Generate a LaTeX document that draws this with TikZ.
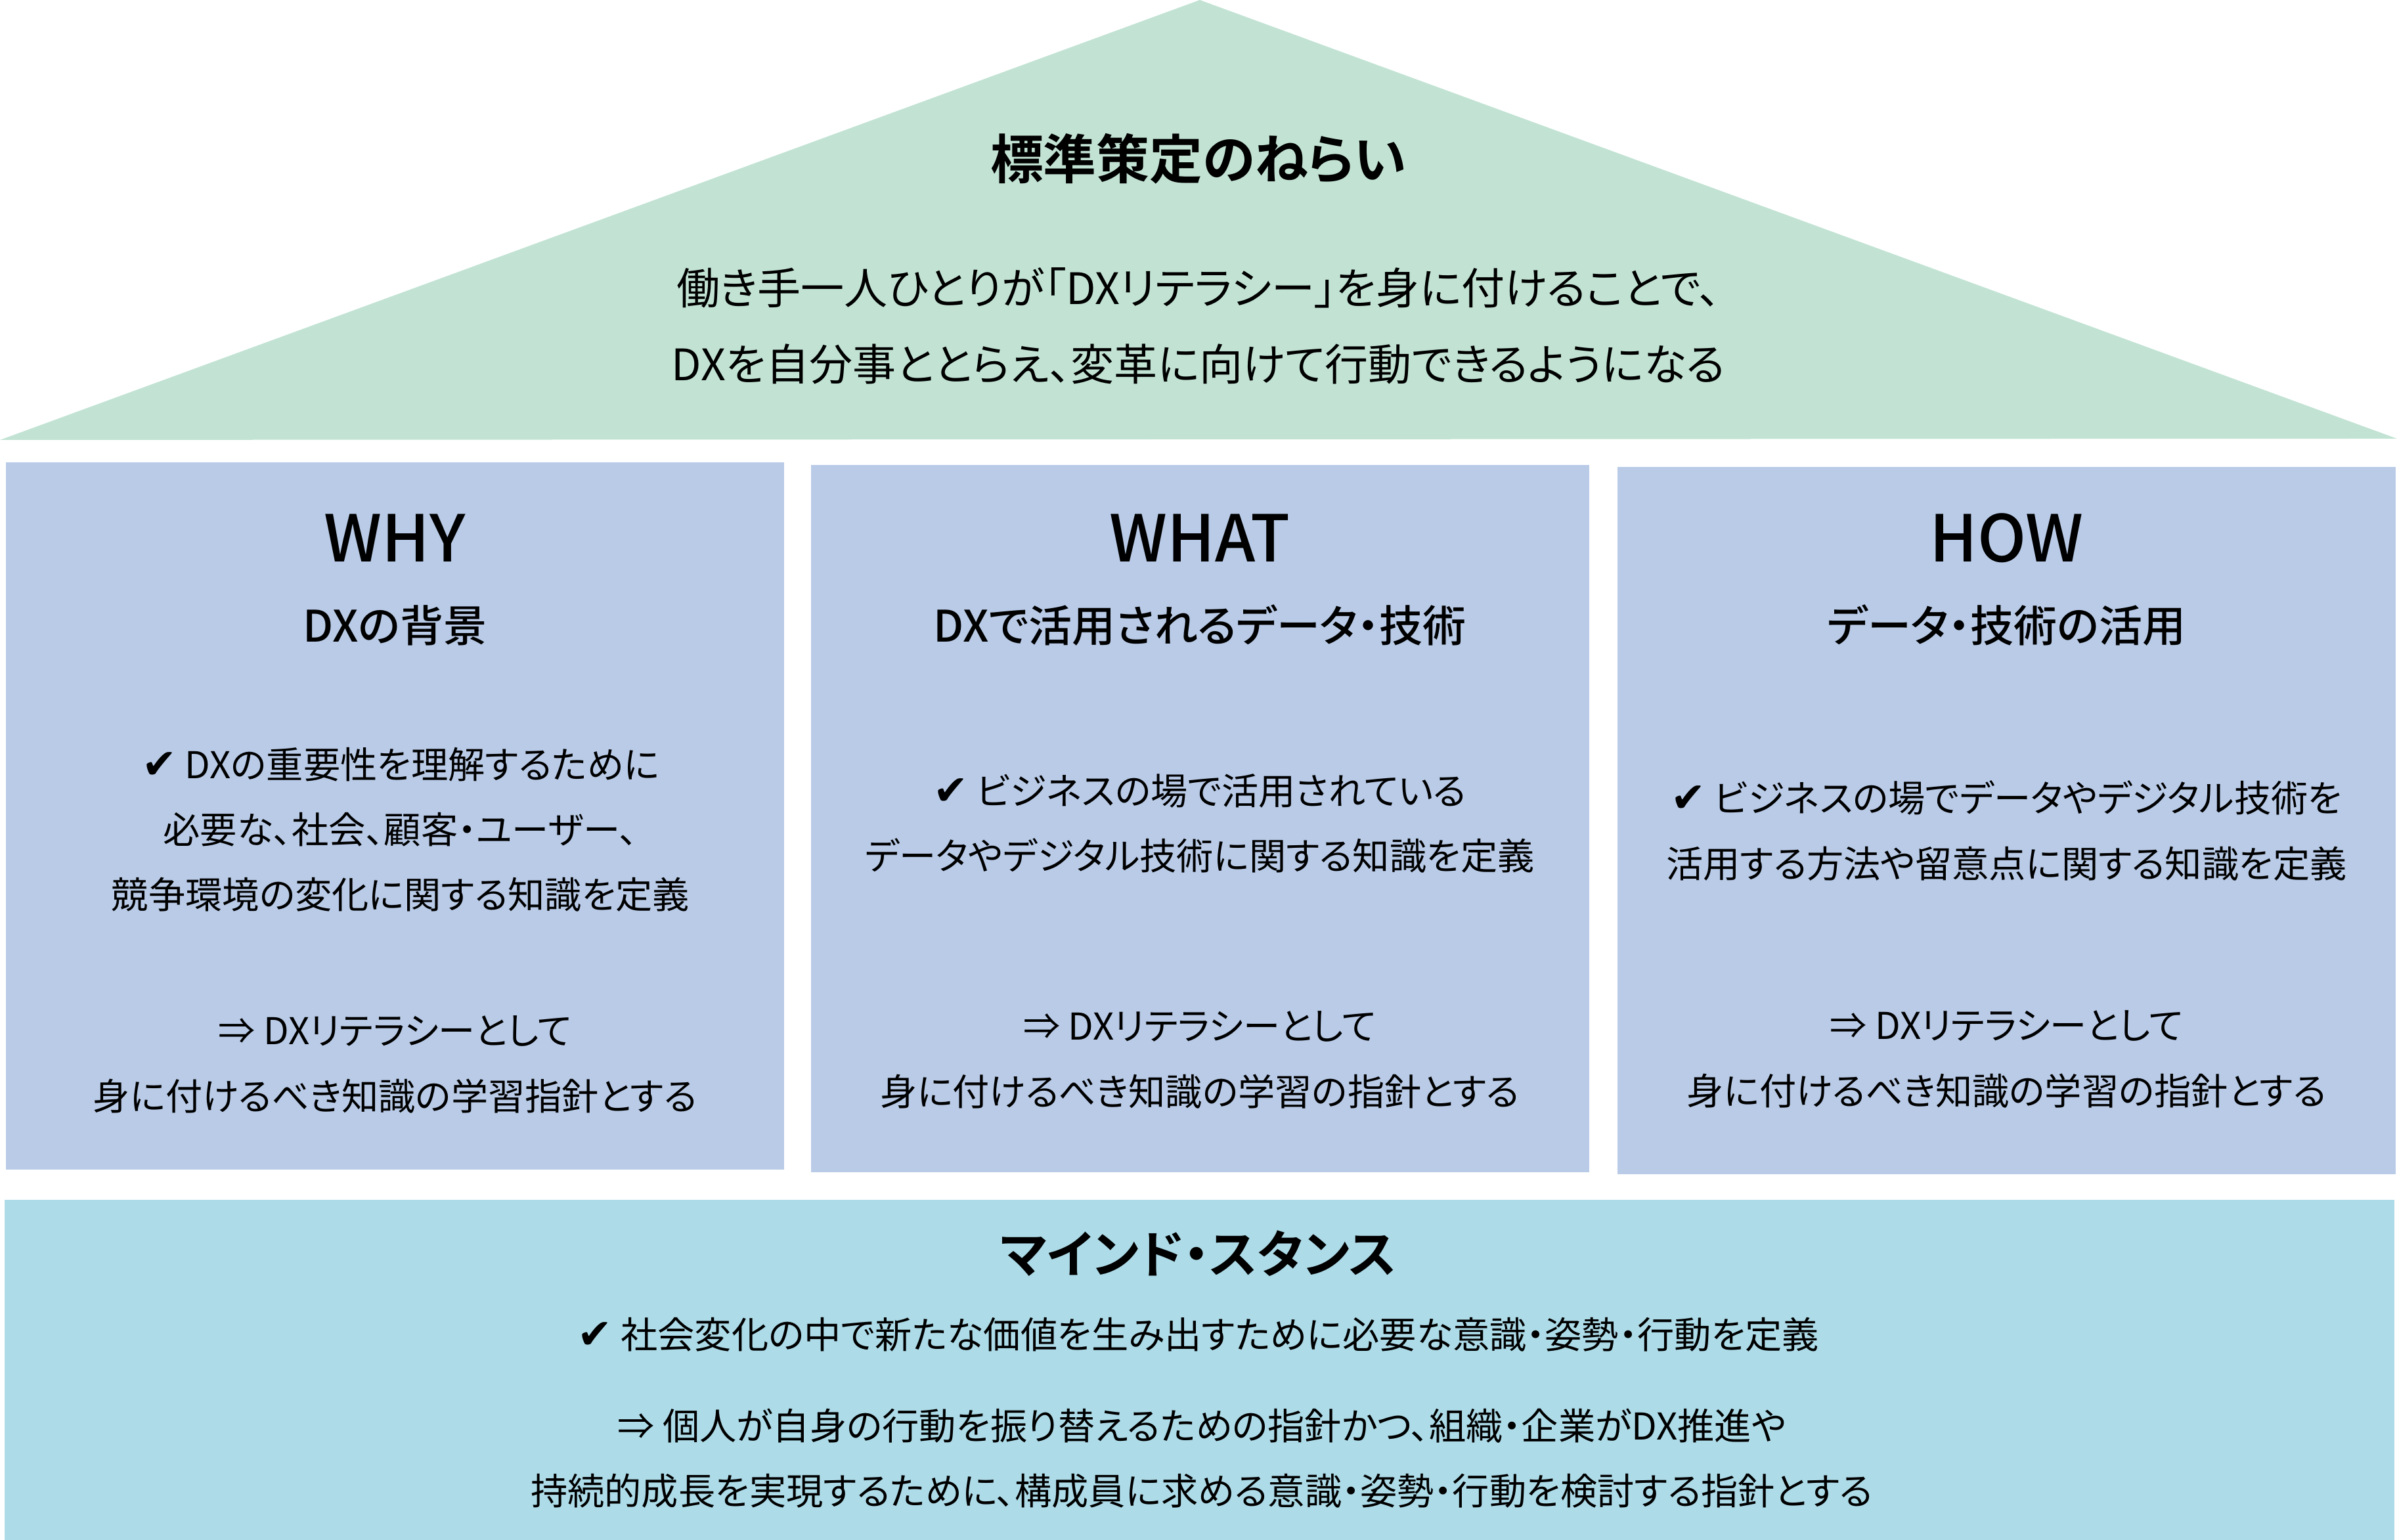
\documentclass[tikz,border=0pt]{standalone}
\usepackage{fontspec}
\setmainfont{Noto Sans CJK JP}[RawFeature=+palt, BoldFont={Noto Sans CJK JP Medium}]
\newfontfamily\heavyfont{Noto Sans CJK JP Bold}[RawFeature=+palt]
\newfontfamily\checkfont{DejaVu Sans}
\usetikzlibrary{positioning}
\definecolor{roofgreen}{HTML}{C2E3D4}
\definecolor{pillarblue}{HTML}{B9CBE7}
\definecolor{baseblue}{HTML}{ADDBE8}
\newcommand{\ok}{{\checkfont\bfseries\fontsize{18}{18}\selectfont ✔}}

\begin{document}
\begin{tikzpicture}[
    pillar/.style={fill=pillarblue, inner sep=0pt, minimum width=11.85cm, minimum height=10.77cm},
    heading/.style={font=\fontsize{28}{32}\selectfont\bfseries},
    subhead/.style={font=\fontsize{18.8}{22}\selectfont\bfseries},
    body/.style={align=center, font=\fontsize{16}{28.2}\selectfont},
    bigtitle/.style={font=\fontsize{23}{28}\selectfont\heavyfont}]
    \useasboundingbox (0,0) rectangle (36.5,23.45);

    % roof
    \fill[roofgreen] (0,16.75) -- (18.27,23.45) -- (36.5,16.77) -- cycle;
    \node[bigtitle] (aim) at (18.25,21.03) {標準策定のねらい};
    \node[align=center, font=\fontsize{18.8}{33}\selectfont] (aimtext) at (18.25,18.49)
        {働き手一人ひとりが「DXリテラシー」を身に付けることで、\\DXを自分事ととらえ、変革に向けて行動できるようになる};

    % pillars
    \node[pillar] (why) at (6.015,11.025) {};
    \node[pillar] (what) at (18.27,10.98) {};
    \node[pillar] (how) at (30.555,10.955) {};

    \node[heading] (whyhead) at (6.015,15.26) {WHY};
    \node[subhead] (whysub) at (6.015,13.93) {DXの背景};
    \node[body] (whydef) at (6.1,10.82) {\ok\ DXの重要性を理解するために\\必要な、社会、顧客・ユーザー、\\競争環境の変化に関する知識を定義};
    \node[body] (whygoal) at (6.015,7.24) {⇒\ DXリテラシーとして\\身に付けるべき知識の学習指針とする};

    \node[heading] (whathead) at (18.27,15.26) {WHAT};
    \node[subhead] (whatsub) at (18.27,13.93) {DXで活用されるデータ・技術};
    \node[body] (whatdef) at (18.27,10.915) {\ok\ ビジネスの場で活用されている\\データやデジタル技術に関する知識を定義};
    \node[body] (whatgoal) at (18.27,7.31) {⇒\ DXリテラシーとして\\身に付けるべき知識の学習の指針とする};

    \node[heading] (howhead) at (30.555,15.26) {HOW};
    \node[subhead] (howsub) at (30.555,13.93) {データ・技術の活用};
    \node[body] (howdef) at (30.555,10.80) {\ok\ ビジネスの場でデータやデジタル技術を\\活用する方法や留意点に関する知識を定義};
    \node[body] (howgoal) at (30.555,7.32) {⇒\ DXリテラシーとして\\身に付けるべき知識の学習の指針とする};

    % base
    \node[fill=baseblue, inner sep=0pt, minimum width=36.39cm, minimum height=5.18cm] (base) at (18.265,2.59) {};
    \node[bigtitle, font=\fontsize{22}{28}\selectfont\heavyfont] (mind) at (18.25,4.36) {マインド・スタンス};
    \node[body] (minddef) at (18.25,3.13) {\ok\ 社会変化の中で新たな価値を生み出すために必要な意識・姿勢・行動を定義};
    \node[body] (mindgoal) at (18.3,1.24) {⇒\ 個人が自身の行動を振り替えるための指針かつ、組織・企業がDX推進や\\持続的成長を実現するために、構成員に求める意識・姿勢・行動を検討する指針とする};
\end{tikzpicture}
\end{document}
